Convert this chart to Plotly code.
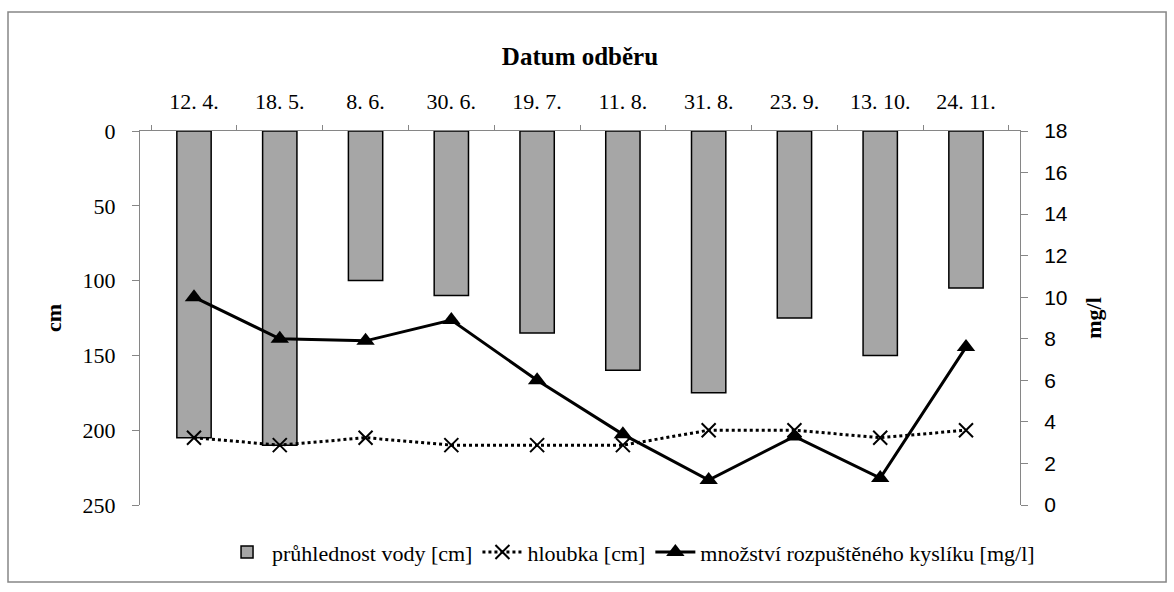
import plotly.graph_objects as go

dates = ["12. 4.", "18. 5.", "8. 6.", "30. 6.", "19. 7.", "11. 8.", "31. 8.", "23. 9.", "13. 10.", "24. 11."]
pruhlednost = [205, 210, 100, 110, 135, 160, 175, 125, 150, 105]
hloubka = [205, 210, 205, 210, 210, 210, 200, 200, 205, 200]
kyslik = [10.0, 8.0, 7.9, 8.9, 6.0, 3.4, 1.2, 3.3, 1.3, 7.6]

serif = "Liberation Serif, Times New Roman, serif"

fig = go.Figure()
fig.add_trace(go.Bar(
    x=dates, y=pruhlednost, name="průhlednost vody [cm]",
    marker=dict(color="#a6a6a6", line=dict(color="black", width=1.5)),
    yaxis="y",
))
fig.add_trace(go.Scatter(
    x=dates, y=hloubka, name="hloubka [cm]", mode="lines+markers",
    line=dict(color="black", width=3, dash="dot"),
    marker=dict(symbol="x-thin", size=14, line=dict(color="black", width=2)),
    yaxis="y",
))
fig.add_trace(go.Scatter(
    x=dates, y=kyslik, name="množství rozpuštěného kyslíku [mg/l]", mode="lines+markers",
    line=dict(color="black", width=3),
    marker=dict(symbol="triangle-up", size=16, color="black"),
    yaxis="y2",
))

fig.update_layout(
    width=1174, height=592,
    margin=dict(l=140, r=154, t=131, b=87),
    paper_bgcolor="white", plot_bgcolor="white",
    font=dict(family=serif, size=22, color="black"),
    bargap=0.6,
    showlegend=True,
    legend=dict(orientation="h", x=0.558, xanchor="center", y=-0.07, yanchor="top",
                font=dict(family=serif, size=22), traceorder="normal", itemwidth=40),
    xaxis=dict(
        side="top", type="category", showgrid=False,
        showline=True, linecolor="#868686", linewidth=1,
        ticks="outside", tickson="boundaries", ticklen=5, tickcolor="#868686",
        ticklabelstandoff=12,
        tickfont=dict(family=serif, size=22),
        title=dict(text="<b>Datum odběru</b>", font=dict(family=serif, size=25), standoff=16),
    ),
    yaxis=dict(
        range=[250, 0], tickvals=[0, 50, 100, 150, 200, 250], showgrid=False, zeroline=False,
        showline=True, linecolor="#868686", linewidth=1,
        ticks="outside", ticklen=7, tickcolor="#868686",
        ticklabelstandoff=12,
        tickfont=dict(family=serif, size=22),
        title=dict(text="<b>cm</b>", font=dict(family=serif, size=22), standoff=14),
    ),
    yaxis2=dict(
        overlaying="y", side="right", range=[0, 18], tickvals=list(range(0, 19, 2)),
        showgrid=False, zeroline=False,
        showline=True, linecolor="#868686", linewidth=1,
        ticks="outside", ticklen=7, tickcolor="#868686",
        ticklabelstandoff=12,
        tickfont=dict(family="Liberation Sans Narrow, Liberation Sans, sans-serif", size=21),
        title=dict(text="<b>mg/l</b>", font=dict(family=serif, size=22), standoff=18),
    ),
    shapes=[dict(type="rect", xref="paper", yref="paper",
                 x0=-0.150, x1=1.166, y0=-0.206, y1=1.318,
                 line=dict(color="#868686", width=1.5), fillcolor="rgba(0,0,0,0)", layer="below")],
)

fig.write_html("out.html")
